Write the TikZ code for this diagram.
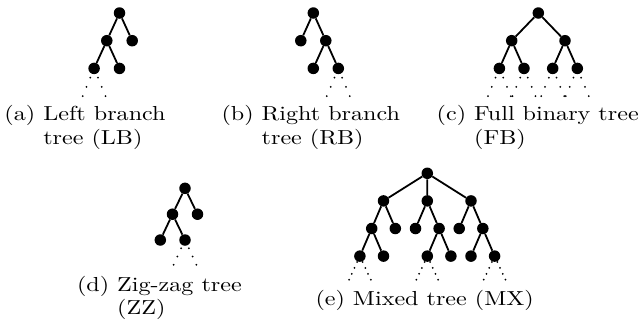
\documentclass[tikz,border=0pt]{standalone}
\usepackage{graphicx}
\newcommand{\sctext}[1]{\scalebox{2.41}[2.03]{\fontsize{10}{12}\selectfont #1}}
\newcommand{\hcap}[3]{\sctext{\begin{tabular}[t]{@{}l@{\hspace{3.33pt}}l@{}}#1&#2\\[-0.4pt]&#3\end{tabular}}}
\begin{document}
\begin{tikzpicture}[x=1pt,y=-1pt,
  tn/.style={circle,fill=black,inner sep=0pt,minimum size=11.5pt},
  ed/.style={line width=1.8pt},
  tl/.style={line width=2pt,line cap=round,dash pattern=on 0pt off #1},
  tl/.default=10pt,
  cp/.style={anchor=base west,inner sep=0pt,outer sep=0pt}]
\useasboundingbox (0,0) rectangle (642,322);

% (a) Left branch tree
\node[tn] (a0) at (119.5,13) {};
\node[tn] (a1) at (106.8,40.7) {};
\node[tn] (a2) at (132.2,40.7) {};
\node[tn] (a3) at (94.1,68.4) {};
\node[tn] (a4) at (119.5,68.4) {};
\coordinate (a3l) at (82.6,96.2);
\coordinate (a3r) at (105.6,96.2);
\draw[ed] (a0) -- (a1) (a0) -- (a2) (a1) -- (a3) (a1) -- (a4);
\draw[tl] (a3.center) -- (a3l);
\draw[tl] (a3.center) -- (a3r);

% (b) Right branch tree
\node[tn] (b0) at (313.3,13) {};
\node[tn] (b1) at (300.8,40.7) {};
\node[tn] (b2) at (325.8,40.7) {};
\node[tn] (b3) at (313.3,68.4) {};
\node[tn] (b4) at (338.3,68.4) {};
\coordinate (b4l) at (326.8,96.2);
\coordinate (b4r) at (349.8,96.2);
\draw[ed] (b0) -- (b1) (b0) -- (b2) (b2) -- (b3) (b2) -- (b4);
\draw[tl] (b4.center) -- (b4l);
\draw[tl] (b4.center) -- (b4r);

% (c) Full binary tree
\node[tn] (c0) at (538.3,13) {};
\node[tn] (c1) at (511.7,40.7) {};
\node[tn] (c2) at (565,40.7) {};
\node[tn] (c3) at (499.4,68.4) {};
\node[tn] (c4) at (524,68.4) {};
\node[tn] (c5) at (552.7,68.4) {};
\node[tn] (c6) at (577.3,68.4) {};
\draw[ed] (c0) -- (c1) (c0) -- (c2) (c1) -- (c3) (c1) -- (c4) (c2) -- (c5) (c2) -- (c6);
\foreach \n in {3,4,5,6}{
  \coordinate (c\n l) at ([xshift=-11.5pt,yshift=-27.8pt]c\n.center);
  \coordinate (c\n r) at ([xshift=11.5pt,yshift=-27.8pt]c\n.center);
  \draw[tl] (c\n.center) -- (c\n l);
  \draw[tl] (c\n.center) -- (c\n r);
}

% (d) Zig-zag tree
\node[tn] (d0) at (185,188.3) {};
\node[tn] (d1) at (172.5,214.2) {};
\node[tn] (d2) at (197.5,214.2) {};
\node[tn] (d3) at (160.3,240) {};
\node[tn] (d4) at (185,240) {};
\coordinate (d4l) at (173.5,265);
\coordinate (d4r) at (196.5,265);
\draw[ed] (d0) -- (d1) (d0) -- (d2) (d1) -- (d3) (d1) -- (d4);
\draw[tl=9.1pt] (d4.center) -- (d4l);
\draw[tl=9.1pt] (d4.center) -- (d4r);

% (e) Mixed tree
\node[tn] (e0) at (427.3,173.3) {};
\node[tn] (eA) at (383.5,200.9) {};
\node[tn] (eB) at (427.3,200.9) {};
\node[tn] (eC) at (471,200.9) {};
\node[tn] (eA1) at (371.7,228.5) {};
\node[tn] (eA2) at (395.3,228.5) {};
\node[tn] (eB1) at (415.5,228.5) {};
\node[tn] (eB2) at (439.1,228.5) {};
\node[tn] (eC1) at (459.2,228.5) {};
\node[tn] (eC2) at (482.8,228.5) {};
\node[tn] (eA11) at (359.9,256.1) {};
\node[tn] (eA12) at (383.5,256.1) {};
\node[tn] (eB21) at (427.3,256.1) {};
\node[tn] (eB22) at (450.9,256.1) {};
\node[tn] (eC21) at (471,256.1) {};
\node[tn] (eC22) at (494.6,256.1) {};
\draw[ed] (e0) -- (eA) (e0) -- (eB) (e0) -- (eC)
  (eA) -- (eA1) (eA) -- (eA2) (eB) -- (eB1) (eB) -- (eB2) (eC) -- (eC1) (eC) -- (eC2)
  (eA1) -- (eA11) (eA1) -- (eA12) (eB2) -- (eB21) (eB2) -- (eB22) (eC2) -- (eC21) (eC2) -- (eC22);
\foreach \n in {A11,B21,C22}{
  \coordinate (e\n l) at ([xshift=-11pt,yshift=-23.9pt]e\n.center);
  \coordinate (e\n r) at ([xshift=11pt,yshift=-23.9pt]e\n.center);
  \draw[tl=6.5pt] (e\n.center) -- (e\n l);
  \draw[tl=6.5pt] (e\n.center) -- (e\n r);
}

% captions
\node[cp] (capa) at (4.5,120.5) {\hcap{(a)}{Left branch}{tree (LB)}};
\node[cp] (capb) at (221.5,120.5) {\hcap{(b)}{Right branch}{tree (RB)}};
\node[cp] (capc) at (436.7,120.5) {\hcap{(c)}{Full binary tree}{(FB)}};
\node[cp] (capd) at (77,291.3) {\hcap{(d)}{Zig-zag tree}{(ZZ)}};
\node[cp] (cape) at (315.5,305) {\sctext{(e) Mixed tree (MX)}};
\end{tikzpicture}
\end{document}
